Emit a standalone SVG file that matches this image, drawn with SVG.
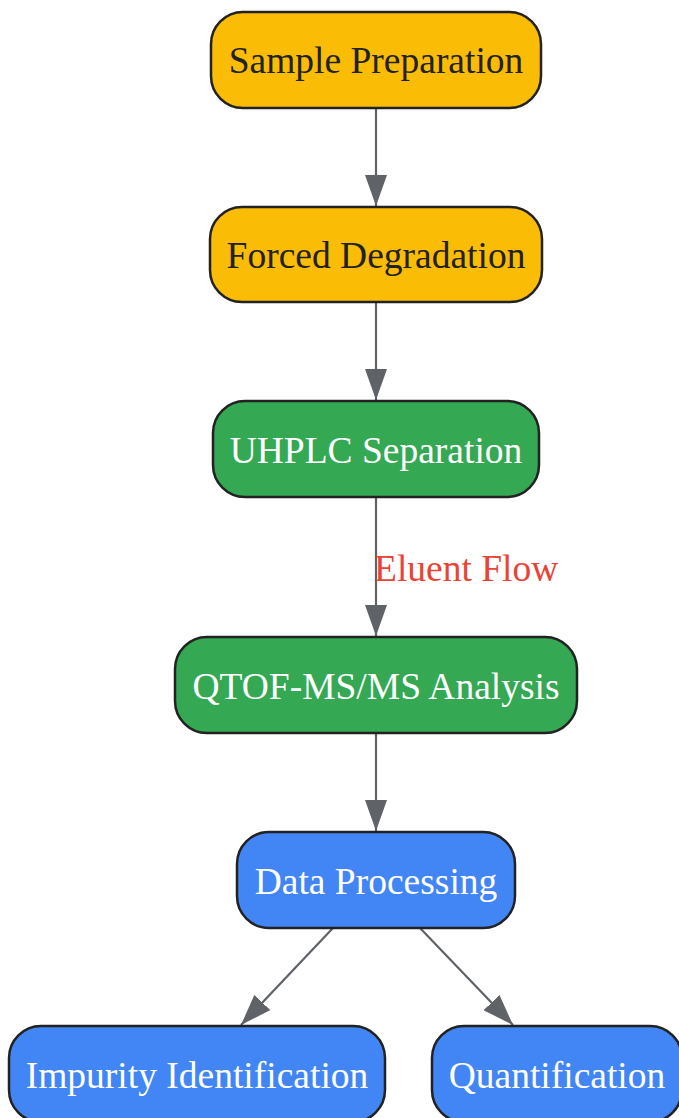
<svg xmlns="http://www.w3.org/2000/svg" width="679" height="1118" viewBox="0 0 679 1118">
<style>
.n{stroke:#222;stroke-width:2.5}
.y{fill:#FBBC05}.g{fill:#34A853}.b{fill:#4285F4}
.t{font-family:"Liberation Serif",serif;font-size:37.5px;text-anchor:middle}
.dk{fill:#222}.wh{fill:#fff}
.e{stroke:#5f6368;stroke-width:2.2;fill:none;marker-end:url(#ah)}
.lbl{font-family:"Liberation Serif",serif;font-size:37.5px;fill:#EA4335}
</style>
<defs>
<marker id="ah" viewBox="0 0 31 22" refX="31" refY="11" markerWidth="31" markerHeight="22" orient="auto" markerUnits="userSpaceOnUse">
<path d="M0,0 L31,11 L0,22 Z" fill="#5f6368"/>
</marker>
</defs>
<g id="edges">
<line class="e" x1="376" y1="108" x2="376" y2="206"/>
<line class="e" x1="376" y1="302" x2="376" y2="400"/>
<line class="e" x1="376" y1="497" x2="376" y2="636"/>
<line class="e" x1="376" y1="733" x2="376" y2="831"/>
<line class="e" x1="333" y1="928" x2="241" y2="1025"/>
<line class="e" x1="420" y1="928" x2="513" y2="1025"/>
<text class="lbl" x="374" y="581">Eluent Flow</text>
</g>
<g id="sample-preparation">
<rect class="n y" x="211" y="12" width="330" height="96" rx="32"/>
<text class="t dk" x="376" y="73">Sample Preparation</text>
</g>
<g id="forced-degradation">
<rect class="n y" x="210" y="207" width="332" height="95" rx="32"/>
<text class="t dk" x="376" y="268">Forced Degradation</text>
</g>
<g id="uhplc-separation">
<rect class="n g" x="213" y="401" width="326" height="96" rx="32"/>
<text class="t wh" x="376" y="463">UHPLC Separation</text>
</g>
<g id="qtof-analysis">
<rect class="n g" x="175" y="637" width="402" height="96" rx="32"/>
<text class="t wh" x="376" y="699">QTOF-MS/MS Analysis</text>
</g>
<g id="data-processing">
<rect class="n b" x="237" y="832" width="278" height="96" rx="32"/>
<text class="t wh" x="376" y="894">Data Processing</text>
</g>
<g id="impurity-identification">
<rect class="n b" x="9" y="1026" width="376" height="96" rx="32"/>
<text class="t wh" x="197" y="1088">Impurity Identification</text>
</g>
<g id="quantification">
<rect class="n b" x="432" y="1026" width="250" height="96" rx="32"/>
<text class="t wh" x="557" y="1088">Quantification</text>
</g>
</svg>
